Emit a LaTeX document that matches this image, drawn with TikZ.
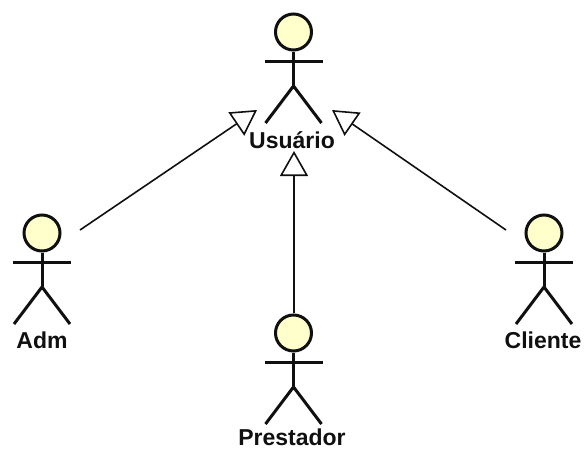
\documentclass[tikz,border=0pt]{standalone}
\usepackage{fontspec}
\setmainfont{Liberation Sans}
\usetikzlibrary{arrows.meta}
\definecolor{headfill}{HTML}{FFFFCC}
\definecolor{ink}{HTML}{101010}
\tikzset{
  x=1pt,y=-1pt,
  limb/.style={draw=ink,line width=3pt},
  head/.style={circle,draw=ink,fill=headfill,line width=3pt,minimum size=36pt,inner sep=0pt},
  actorlabel/.style={font=\fontsize{23pt}{26pt}\selectfont\bfseries,text=ink,inner sep=0pt,anchor=center},
  general/.style={draw=ink,line width=1.6pt,-{Triangle[open,fill=white,length=25pt,width=28pt,line width=1.6pt]}},
  actor/.pic={
    \node[head] (-h) at (0,0) {};
    \coordinate (-arml) at (-29,29.5);
    \coordinate (-armr) at (29,29.5);
    \coordinate (-hip) at (0,54);
    \coordinate (-legl) at (-28,91);
    \coordinate (-legr) at (28,91);
    \draw[limb] (-h.south) -- (-hip);
    \draw[limb] (-arml) -- (-armr);
    \draw[limb,line join=round] (-legl) -- (-hip) -- (-legr);
  }
}
\begin{document}
\begin{tikzpicture}
\useasboundingbox (0,0) rectangle (584,450);
\pic (u) at (293.5,32) {actor};
\pic (a) at (42,233) {actor};
\pic (p) at (293.5,333) {actor};
\pic (c) at (544,233) {actor};
\node[actorlabel] (ul) at (292,140) {Usuário};
\node[actorlabel] (al) at (42,340) {Adm};
\node[actorlabel] (pl) at (292,437.5) {Prestador};
\node[actorlabel] (cl) at (543,340) {Cliente};
\coordinate (afrom) at (80,230);
\coordinate (ato) at (257,110);
\coordinate (cfrom) at (506,230);
\coordinate (cto) at (332,110);
\coordinate (pfrom) at (294,313);
\coordinate (pto) at (294,151);
\draw[general] (afrom) -- (ato);
\draw[general] (cfrom) -- (cto);
\draw[general] (pfrom) -- (pto);
\end{tikzpicture}
\end{document}
